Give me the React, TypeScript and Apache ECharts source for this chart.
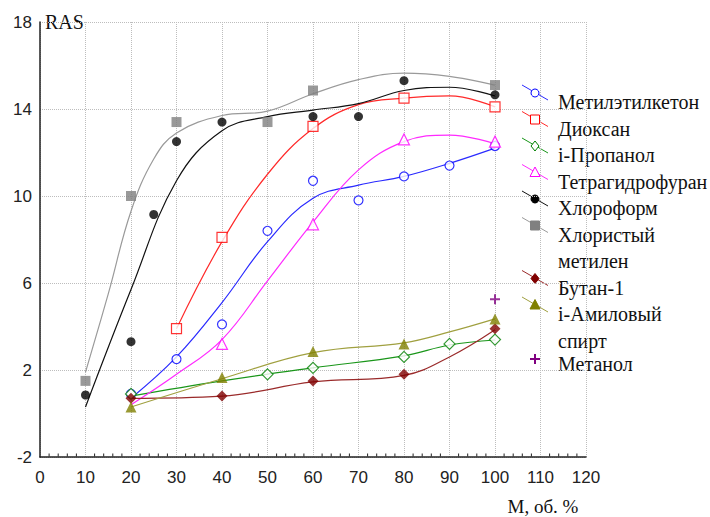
import React, { useEffect, useRef } from "react";
import * as echarts from "echarts";

// ---- data ----
const xTicks = [0, 10, 20, 30, 40, 50, 60, 70, 80, 90, 100, 110, 120];
const xMinorTicks = [
  2, 4, 6, 8, 12, 14, 16, 18, 22, 24, 26, 28, 32, 34, 36, 38, 42, 44, 46, 48,
  52, 54, 56, 58, 62, 64, 66, 68, 72, 74, 76, 78, 82, 84, 86, 88, 92, 94, 96, 98,
  102, 104, 106, 108, 112, 114, 116, 118,
];

const mekX = [20, 30, 40, 50, 60, 70, 80, 90, 100];
const mekY = [0.9, 2.5, 4.1, 8.4, 10.7, 9.8, 10.9, 11.4, 12.3];
const mekFitX = [20, 30, 40, 50, 60, 70, 80, 90, 100];
const mekFitY = [0.7, 2.6, 5.1, 7.9, 9.9, 10.5, 10.9, 11.5, 12.2];

const dioX = [30, 40, 60, 80, 100];
const dioY = [3.9, 8.1, 13.2, 14.5, 14.1];
const dioFitX = [30, 40, 50, 60, 70, 80, 90, 100];
const dioFitY = [3.9, 7.9, 11.0, 13.1, 14.2, 14.5, 14.6, 14.1];

const iprX = [20, 50, 60, 80, 90, 100];
const iprY = [0.9, 1.8, 2.1, 2.6, 3.2, 3.4];
const iprFitX = [20, 40, 60, 80, 90, 100];
const iprFitY = [0.8, 1.5, 2.1, 2.65, 3.15, 3.38];

const thfX = [40, 60, 80, 100];
const thfY = [3.2, 8.7, 12.6, 12.5];
const thfFitX = [20, 30, 40, 50, 60, 70, 80, 90, 100];
const thfFitY = [0.4, 1.8, 3.4, 6.1, 8.8, 11.2, 12.5, 12.8, 12.4];

const chfX = [10, 20, 25, 30, 40, 60, 70, 80, 100];
const chfY = [0.85, 3.3, 9.15, 12.5, 13.4, 13.65, 13.65, 15.3, 14.65];
const chfFitX = [10, 20, 30, 40, 50, 60, 70, 80, 90, 100];
const chfFitY = [0.3, 5.7, 10.7, 13.0, 13.65, 13.95, 14.25, 14.85, 15.0, 14.6];

const mclX = [10, 20, 30, 50, 60, 100];
const mclY = [1.5, 10.0, 13.4, 13.4, 14.85, 15.1];
const mclFitX = [10, 15, 20, 25, 30, 40, 50, 60, 70, 80, 90, 100];
const mclFitY = [1.9, 5.5, 9.3, 11.7, 12.9, 13.7, 13.9, 14.7, 15.35, 15.65, 15.5, 15.1];

const butX = [20, 40, 60, 80, 100];
const butY = [0.7, 0.8, 1.5, 1.8, 3.9];
const butFitX = [20, 40, 60, 80, 90, 100];
const butFitY = [0.7, 0.8, 1.45, 1.75, 2.6, 3.85];

const amyX = [20, 40, 60, 80, 100];
const amyY = [0.3, 1.65, 2.85, 3.2, 4.35];
const amyFitX = [20, 40, 60, 80, 90, 100];
const amyFitY = [0.3, 1.6, 2.8, 3.25, 3.75, 4.35];

const metX = [100];
const metY = [5.25];

const PLUS = "path://M4,0H6V4H10V6H6V10H4V6H0V4H4Z";
const SERIF = "Liberation Serif";
const Y_MIN = -2;

type Sym = "circle" | "rect" | "diamond" | "triangle" | "plus";

const defs: {
  name: string;
  lines: string[];
  x: number[];
  y: number[];
  fx?: number[];
  fy?: number[];
  color: string;
  lineColor: string;
  sym: Sym;
  filled: boolean;
  size: number;
}[] = [
  { name: "Метилэтилкетон", lines: ["Метилэтилкетон"], x: mekX, y: mekY, fx: mekFitX, fy: mekFitY, color: "#0000ff", lineColor: "#2a2aff", sym: "circle", filled: false, size: 9 },
  { name: "Диоксан", lines: ["Диоксан"], x: dioX, y: dioY, fx: dioFitX, fy: dioFitY, color: "#ff0000", lineColor: "#ff2a2a", sym: "rect", filled: false, size: 10 },
  { name: "i-Пропанол", lines: ["i-Пропанол"], x: iprX, y: iprY, fx: iprFitX, fy: iprFitY, color: "#008000", lineColor: "#1a961a", sym: "diamond", filled: false, size: 11 },
  { name: "Тетрагидрофуран", lines: ["Тетрагидрофуран"], x: thfX, y: thfY, fx: thfFitX, fy: thfFitY, color: "#ff00ff", lineColor: "#ff2aff", sym: "triangle", filled: false, size: 11 },
  { name: "Хлороформ", lines: ["Хлороформ"], x: chfX, y: chfY, fx: chfFitX, fy: chfFitY, color: "#000000", lineColor: "#111111", sym: "circle", filled: true, size: 9 },
  { name: "Хлористый метилен", lines: ["Хлористый", "метилен"], x: mclX, y: mclY, fx: mclFitX, fy: mclFitY, color: "#808080", lineColor: "#9a9a9a", sym: "rect", filled: true, size: 10 },
  { name: "Бутан-1", lines: ["Бутан-1"], x: butX, y: butY, fx: butFitX, fy: butFitY, color: "#800000", lineColor: "#9a2a2a", sym: "diamond", filled: true, size: 11 },
  { name: "i-Амиловый спирт", lines: ["i-Амиловый", "спирт"], x: amyX, y: amyY, fx: amyFitX, fy: amyFitY, color: "#808000", lineColor: "#a0a040", sym: "triangle", filled: true, size: 11 },
  { name: "Метанол", lines: ["Метанол"], x: metX, y: metY, color: "#800080", lineColor: "#800080", sym: "plus", filled: true, size: 10 },
];

const zip = (a: number[], b: number[]) => a.map((v, i) => [v, b[i]]);

function markerGraphic(sym: Sym, cx: number, cy: number, color: string, filled: boolean): any {
  const style = { fill: filled ? color : "#ffffff", stroke: color, lineWidth: 1 };
  if (sym === "circle") return { type: "circle", shape: { cx, cy, r: 4 }, style };
  if (sym === "rect") return { type: "rect", shape: { x: cx - 4.5, y: cy - 4.5, width: 9, height: 9 }, style };
  if (sym === "diamond")
    return { type: "polygon", shape: { points: [[cx, cy - 5], [cx + 4, cy], [cx, cy + 5], [cx - 4, cy]] }, style };
  if (sym === "triangle")
    return { type: "polygon", shape: { points: [[cx, cy - 5.5], [cx + 5, cy + 4], [cx - 5, cy + 4]] }, style };
  return {
    type: "group",
    children: [
      { type: "line", shape: { x1: cx - 5, y1: cy, x2: cx + 5, y2: cy }, style: { stroke: color, lineWidth: 2 } },
      { type: "line", shape: { x1: cx, y1: cy - 5, x2: cx, y2: cy + 5 }, style: { stroke: color, lineWidth: 2 } },
    ],
  };
}

function buildLegend(): any[] {
  const out: any[] = [];
  let ty = 102;
  const step = 26.5;
  defs.forEach((d) => {
    const isPlus = d.sym === "plus";
    if (isPlus) ty -= 3;
    if (!isPlus) {
      out.push({
        type: "line",
        shape: { x1: 522, y1: ty - 17, x2: 548, y2: ty - 2 },
        style: { stroke: d.lineColor, lineWidth: 1 },
      });
      out.push(markerGraphic(d.sym, 535, ty - 9, d.color, d.filled));
    } else {
      out.push(markerGraphic(d.sym, 535, ty - 5, d.color, d.filled));
    }
    d.lines.forEach((t, i) => {
      out.push({
        type: "text",
        x: 558,
        y: ty + i * step,
        style: {
          text: t,
          fontFamily: SERIF,
          fontSize: 20,
          fill: "#111111",
          verticalAlign: "middle",
        },
      });
    });
    ty += d.lines.length * step;
  });
  return out;
}

function symbolOf(s: Sym): string {
  if (s === "plus") return PLUS;
  return s;
}

export default function App() {
  const ref = useRef<HTMLDivElement>(null);
  useEffect(() => {
    if (!ref.current) return;
    const chart = echarts.init(ref.current, null, { renderer: "svg" });
    const series: any[] = [];
    // minor ticks along the x axis, drawn through the axis scale
    series.push({
      type: "custom",
      name: "minor ticks",
      silent: true,
      clip: false,
      z: 1,
      data: xMinorTicks.map((v) => [v, Y_MIN]),
      renderItem: (params: any, api: any) => {
        const p = api.coord([api.value(0), api.value(1)]);
        return {
          type: "line",
          shape: { x1: p[0], y1: p[1] - 0.5, x2: p[0], y2: p[1] - 3.5 },
          style: { stroke: "#222", lineWidth: 1 },
        };
      },
    });
    defs.forEach((d) => {
      if (d.fx && d.fy) {
        series.push({
          type: "line",
          name: d.name + " fit",
          data: zip(d.fx, d.fy),
          smooth: 0.4,
          showSymbol: false,
          symbol: "none",
          lineStyle: { color: d.lineColor, width: 1.2 },
          z: 2,
          silent: true,
        });
      }
    });
    defs.forEach((d) => {
      series.push({
        type: "scatter",
        name: d.name,
        data: zip(d.x, d.y),
        symbol: symbolOf(d.sym),
        symbolSize: d.size,
        itemStyle: {
          color: d.filled ? d.color : "#ffffff",
          borderColor: d.color,
          borderWidth: d.filled ? 0 : 1.2,
        },
        z: 3,
      });
    });
    const axisFont = { fontSize: 17, color: "#222", fontFamily: "Liberation Sans" };
    chart.setOption({
      animation: false,
      backgroundColor: "#ffffff",
      grid: { left: 40, right: 124, top: 22, bottom: 60, containLabel: false },
      xAxis: {
        type: "value",
        min: xTicks[0],
        max: xTicks[xTicks.length - 1],
        interval: 10,
        axisLine: { show: true, onZero: false, lineStyle: { color: "#222", width: 1.5 } },
        axisTick: { show: false },
        splitLine: { show: true, lineStyle: { type: "dotted", color: "#bdbdbd", width: 1 } },
        axisLabel: { ...axisFont, margin: 12 },
      },
      yAxis: {
        type: "value",
        min: Y_MIN,
        max: 18,
        interval: 4,
        axisLine: { show: true, onZero: false, lineStyle: { color: "#222", width: 1.5 } },
        axisTick: { show: false },
        splitLine: { show: true, lineStyle: { type: "dotted", color: "#bdbdbd", width: 1 } },
        axisLabel: { ...axisFont, margin: 8 },
      },
      graphic: [
        {
          type: "text",
          x: 45,
          y: 22,
          style: { text: "RAS", fontFamily: SERIF, fontSize: 20, fill: "#111", verticalAlign: "middle" },
        },
        {
          type: "text",
          x: 543,
          y: 506,
          style: { text: "M, об. %", fontFamily: SERIF, fontSize: 19, fill: "#111", align: "center", verticalAlign: "middle" },
        },
        ...buildLegend(),
      ],
      series,
    });
    return () => chart.dispose();
  }, []);
  return <div ref={ref} style={{ width: 710, height: 517, position: "absolute", left: 0, top: 0 }} />;
}
